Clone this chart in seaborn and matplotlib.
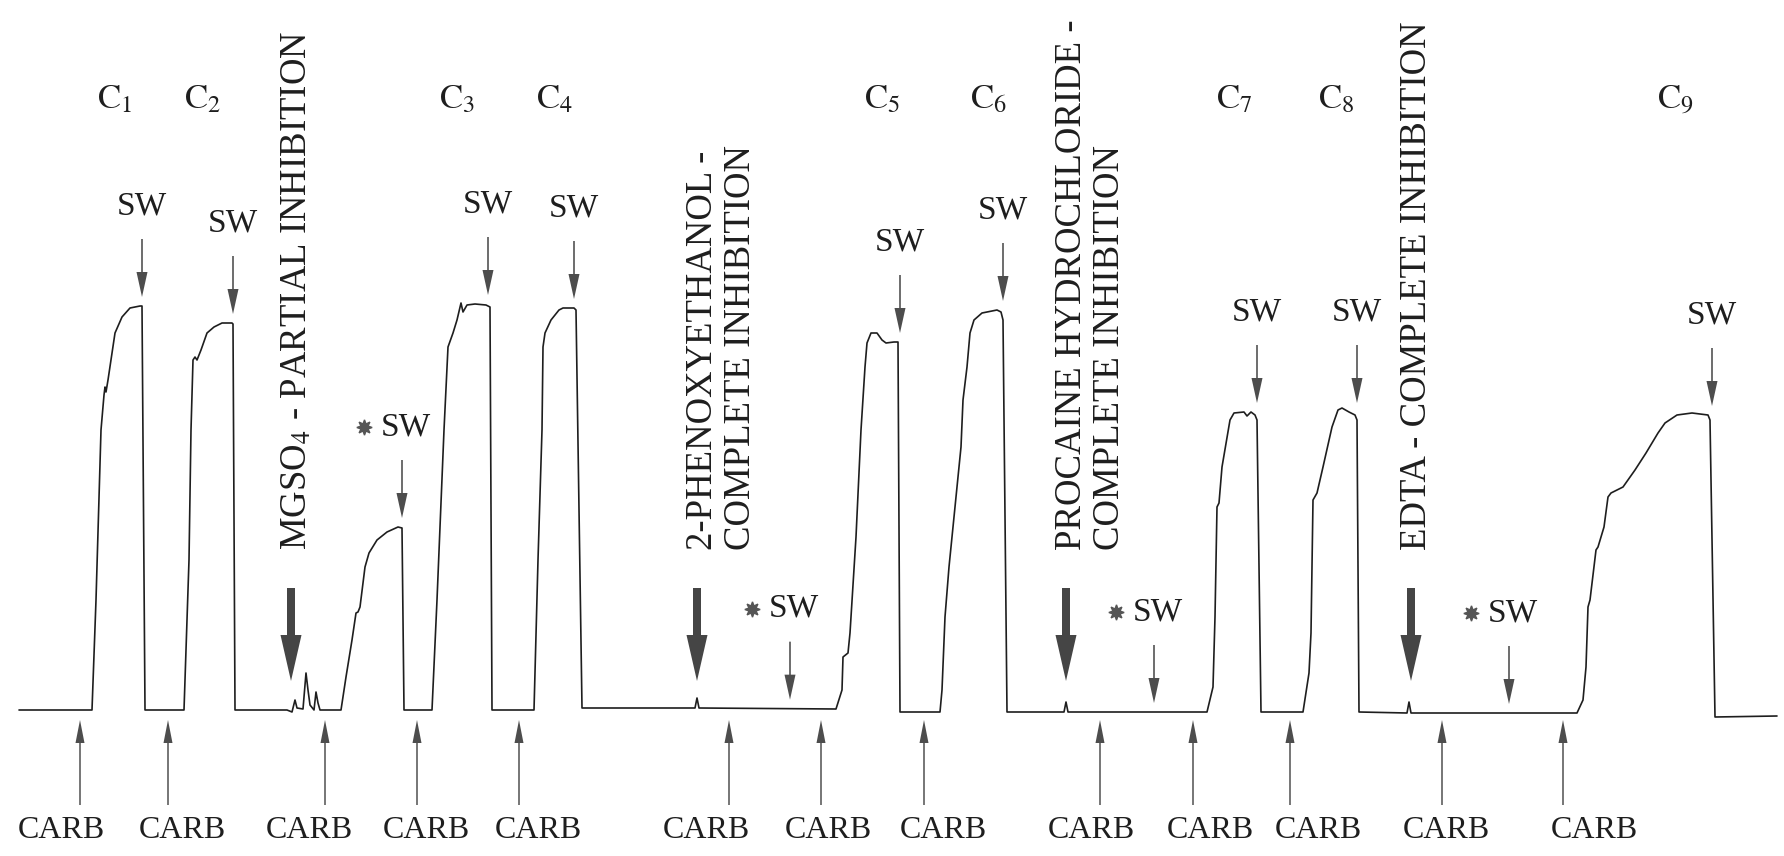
import numpy as np
import pandas as pd
import matplotlib
matplotlib.use("Agg")
import matplotlib.pyplot as plt
import seaborn as sns

# ---- isometric tension record (time in chart units, pen height above rest level) ----
trace_time = [
    19, 92, 96, 101, 104, 105, 106, 108, 115, 122, 130, 140, 142, 145,
    184, 189, 191, 193, 195, 197, 201, 207, 214, 222, 232, 233, 235,
    287, 292, 295, 297, 303, 306, 308, 310, 314, 316, 318, 320, 341,
    346, 352, 356, 358, 360, 365, 369, 377, 387, 398, 402, 404,
    432, 437, 444, 448, 453, 457, 461, 463, 467, 475, 486, 490, 492,
    534, 538, 542, 543, 545, 551, 559, 563, 574, 576, 582,
    695, 697, 699, 836,
    842, 843, 848, 850, 856, 861, 865, 867, 871, 877, 882, 886, 894, 898, 900,
    940, 942, 945, 949, 959, 961, 963, 967, 970, 974, 982, 997, 1001, 1003, 1007,
    1064, 1066, 1068, 1207,
    1213, 1215, 1217, 1219, 1222, 1230, 1234, 1244, 1247, 1251, 1255, 1257, 1261,
    1303, 1309, 1311, 1313, 1317, 1323, 1332, 1338, 1342, 1349, 1355, 1357, 1359,
    1407, 1409, 1411, 1577,
    1583, 1586, 1588, 1590, 1596, 1598, 1604, 1608, 1611, 1623, 1635, 1646, 1658,
    1665, 1677, 1692, 1708, 1710, 1715, 1777,
]
trace_level = [
    0, 0, 110, 280, 315, 323, 318, 330, 377, 393, 402, 404, 404, 0,
    0, 150, 280, 350, 353, 350, 360, 377, 383, 387, 387, 386, 0,
    0, -2, 10, 2, 1, 37, 20, 5, 0, 18, 7, 0, 0,
    33, 70, 97, 98, 103, 143, 157, 170, 178, 183, 182, 0,
    0, 110, 280, 363, 377, 390, 407, 398, 405, 406, 405, 403, 0,
    0, 150, 280, 363, 377, 390, 400, 402, 402, 400, 2,
    2, 12, 2, 1,
    20, 53, 57, 77, 173, 280, 343, 367, 377, 377, 370, 367, 368, 368, -2,
    -2, 20, 93, 143, 243, 263, 310, 343, 377, 390, 397, 400, 398, 390, -2,
    -2, 8, -2, -2,
    23, 93, 203, 207, 243, 290, 297, 298, 294, 298, 295, 290, -2,
    -2, 37, 77, 210, 217, 243, 283, 300, 302, 298, 295, 290, -2,
    -3, 8, -3, -3,
    10, 43, 103, 110, 160, 163, 183, 213, 217, 223, 240, 257, 277,
    287, 295, 297, 295, 290, -7, -6,
]

# contraction labels
contraction_labels = ["1", "2", "3", "4", "5", "6", "7", "8", "9"]
contraction_x = [115, 203, 457, 555, 882, 989, 1234, 1336, 1675]

# wash-out (SW) marks after normal contractions
sw_times = [142, 233, 488, 574, 900, 1003, 1257, 1357, 1712]
# wash-out marks after inhibited responses (starred)
sw_star_times = [402, 790, 1154, 1509]

# carbachol additions
carb_times = [80, 168, 325, 417, 519, 729, 821, 924, 1100, 1193, 1290, 1442, 1563]
carb_label_x = [61, 182, 309, 426, 538, 706, 828, 943, 1091, 1210, 1318, 1446, 1594]

# inhibitor additions
inhibitor_times = [291, 697, 1066, 1411]
inhibitor_text = [
    ["MGSO$_4$ - PARTIAL INHIBITION"],
    ["2-PHENOXYETHANOL -", "COMPLETE INHIBITION"],
    ["PROCAINE HYDROCHLORIDE -", "COMPLETE INHIBITION"],
    ["EDTA - COMPLETE INHIBITION"],
]

# ---- drawing ----
sns.set_theme(style="white")
plt.rcParams["font.family"] = ["Liberation Serif", "DejaVu Serif"]
plt.rcParams["mathtext.fontset"] = "stix"

W, H = 1784, 856
fig = plt.figure(figsize=(W / 100, H / 100), dpi=100)
ax = fig.add_axes([0, 0, 1, 1])
ax.set_xlim(0, W)
ax.set_ylim(710 - H, 710)
ax.axis("off")

ink = "#1e1e1e"
arrow_col = "#4d4d4d"

rec = pd.DataFrame({"time": trace_time, "level": trace_level})
sns.lineplot(data=rec, x="time", y="level", sort=False, estimator=None,
             color=ink, lw=1.2, ax=ax)

t_arr = np.array(trace_time, float)
l_arr = np.array(trace_level, float)


def level_before(t, window=14):
    m = (t_arr >= t - window) & (t_arr <= t)
    return l_arr[m].max() if m.any() else np.interp(t, t_arr, l_arr)


def down_arrow(x, tip, length, width, head_w, head_l, color):
    ax.arrow(x, tip + length, 0, -length, width=width, head_width=head_w,
             head_length=head_l, length_includes_head=True, color=color, lw=0)


# contraction labels
for lab, x in zip(contraction_labels, contraction_x):
    ax.text(x, 710 - 100, r"$\mathrm{C}_{%s}$" % lab, ha="center", va="center",
            fontsize=25, color=ink)

# SW arrows over each peak
for t in sw_times:
    tip = level_before(t) + 9
    down_arrow(t, tip, 58, 1.6, 11, 25, arrow_col)
    ax.text(t, tip + 58 + 33, "SW", ha="center", va="center", fontsize=24, color=ink)

# starred SW arrows
for t in sw_star_times:
    tip = level_before(t) + 9
    down_arrow(t, tip, 58, 1.6, 11, 25, arrow_col)
    ax.text(t + 4, tip + 58 + 33, "SW", ha="center", va="center", fontsize=24, color=ink)
    ax.plot(t - 38, tip + 58 + 33, marker=(8, 1, 0), ms=11, color="#555555", lw=0)

# carbachol arrows and labels
for t, lx in zip(carb_times, carb_label_x):
    ax.arrow(t, -95, 0, 85, width=1.5, head_width=9, head_length=23,
             length_includes_head=True, color=arrow_col, lw=0)
    ax.text(lx, -121, "CARB", ha="center", va="center", fontsize=23, color=ink)

# inhibitor arrows and vertical captions
for t, lines in zip(inhibitor_times, inhibitor_text):
    down_arrow(t, 29, 93, 8, 21, 46, "#454545")
    for i, txt in enumerate(lines):
        ax.text(t + 6 + i * 38, 710 - 550, txt,
                rotation=90, ha="center", va="bottom", fontsize=26.5, color=ink)

fig.savefig("out.png", dpi=100, facecolor="white")
